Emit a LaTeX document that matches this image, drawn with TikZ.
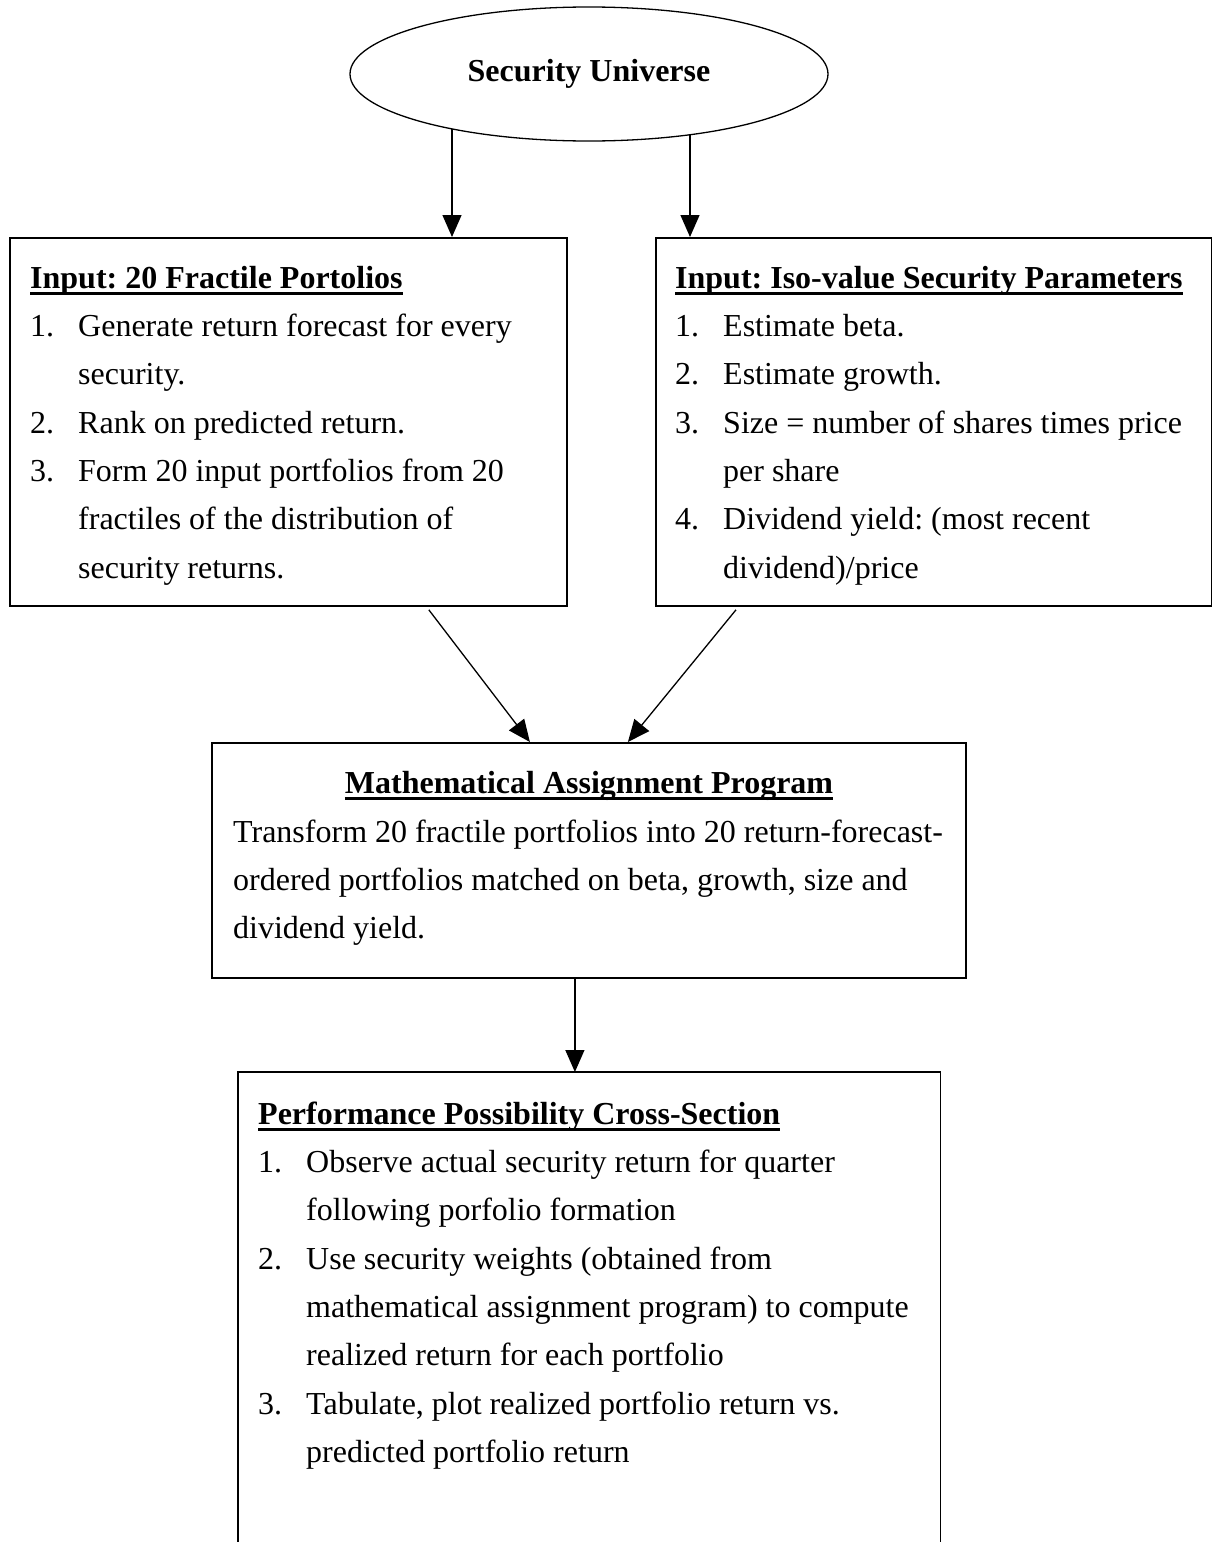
\documentclass[tikz,border=0pt]{standalone}
\usepackage{fontspec}
\setmainfont{Liberation Serif}
\usetikzlibrary{arrows.meta,shapes.geometric}
\newcommand\myfont{\fontsize{32}{48.3}\selectfont\frenchspacing\spaceskip=8pt\xspaceskip=8pt\relax}
\newcommand\mystrut{\rule{0pt}{30pt}}
\newcommand\myhead[1]{\setbox0\hbox{\bfseries #1}\rlap{\rule[-6.5pt]{\wd0}{2.4pt}}\box0}
\newcommand\myitem[2]{\par\hangindent=48pt\hangafter=1\noindent\mystrut\makebox[48pt][l]{#1}#2}
\begin{document}
\begin{tikzpicture}[x=1pt,y=-1pt,
  box/.style={draw, line width=1.8pt, rectangle, inner sep=0pt, anchor=north west},
  txt/.style={inner sep=0pt, text width=1000pt, align=flush left, anchor=north west, font=\myfont},
  hdr/.style={inner sep=0pt, anchor=base, font=\myfont},
  arr/.style={line width=1.3pt, -{Triangle[length=22pt,width=19pt]}}]
\useasboundingbox (0,0) rectangle (1212,1542);

% ellipse
\node[ellipse, draw, line width=1.3pt, minimum width=478pt, minimum height=134pt, inner sep=0pt,
      font=\fontsize{32}{40}\selectfont\bfseries] (su) at (589,74) {Security Universe};

% input boxes
\node[box, minimum width=557pt, minimum height=368pt] (in1) at (9,237) {};
\node[box, minimum width=556pt, minimum height=368pt] (in2) at (655,237) {};

\node[txt] (in1t) at (30,258) {\noindent\mystrut\myhead{Input: 20 Fractile Portolios}%
\myitem{1.}{Generate return forecast for every\newline security.}%
\myitem{2.}{Rank on predicted return.}%
\myitem{3.}{Form 20 input portfolios from 20\newline fractiles of the distribution of\newline security returns.}\par};

\node[txt] (in2t) at (675,258) {\noindent\mystrut\myhead{Input: Iso-value Security Parameters}%
\myitem{1.}{Estimate beta.}%
\myitem{2.}{Estimate growth.}%
\myitem{3.}{Size = number of shares times price\newline per share}%
\myitem{4.}{Dividend yield: (most recent\newline dividend)/price}\par};

% middle box
\node[box, minimum width=754pt, minimum height=235pt] (map) at (211,742) {};
\node[hdr] (mapt1) at (589,793) {\myhead{Mathematical Assignment Program}};
\node[txt] (mapt2) at (233,812) {\noindent\mystrut Transform 20 fractile portfolios into 20 return-forecast-\newline ordered portfolios matched on beta, growth, size and\newline dividend yield.\par};

% bottom box (open at the bottom)
\node[rectangle, inner sep=0pt, anchor=north west, minimum width=702pt, minimum height=490pt] (pp) at (238,1072) {};
\draw[line width=1.8pt] (pp.south west) -- (pp.north west) -- (pp.north east) -- (pp.south east);
\node[txt] (ppt) at (258,1094) {\noindent\mystrut\myhead{Performance Possibility Cross-Section}%
\myitem{1.}{Observe actual security return for quarter\newline following porfolio formation}%
\myitem{2.}{Use security weights (obtained from\newline mathematical assignment program) to compute\newline realized return for each portfolio}%
\myitem{3.}{Tabulate, plot realized portfolio return vs.\newline predicted portfolio return}\par};

% connectors
\coordinate (s1) at ([xshift=-137pt,yshift=-55pt]su.center);
\coordinate (s2) at ([xshift=101pt,yshift=-61pt]su.center);
\draw[arr] (s1) -- (s1 |- in1.north);
\draw[arr] (s2) -- (s2 |- in2.north);
\draw[arr] ([xshift=-139pt,yshift=-3pt]in1.south east) -- ([xshift=-59pt]map.north);
\draw[arr] ([xshift=81pt,yshift=-3pt]in2.south west) -- ([xshift=39pt]map.north);
\coordinate (m1) at ([xshift=-14pt]map.south);
\draw[arr] (m1) -- (m1 |- pp.north);
\end{tikzpicture}
\end{document}
